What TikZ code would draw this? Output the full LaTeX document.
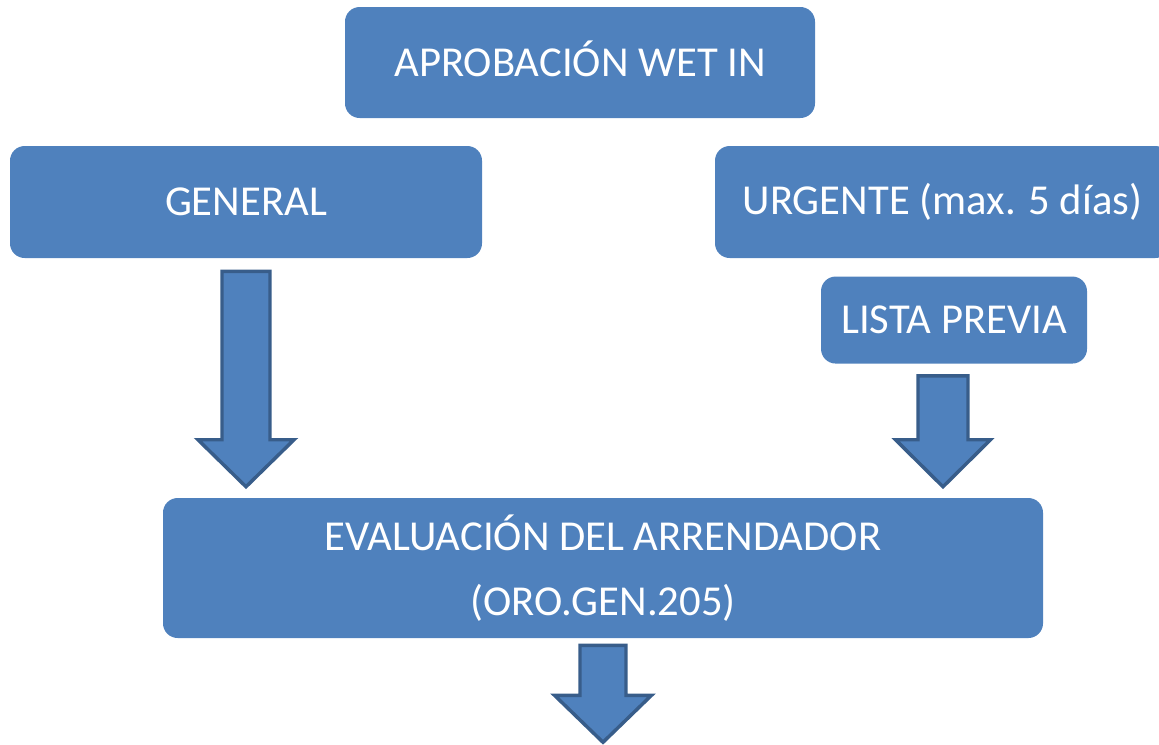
\documentclass[tikz,border=0pt]{standalone}
\usepackage{fontspec}
\setmainfont{Carlito}
\usepackage{tikz}
\usetikzlibrary{positioning, calc}
\definecolor{boxblue}{RGB}{79, 129, 189}
\definecolor{arrowedge}{RGB}{56, 93, 138}

% block arrow from #1 (top) down to #2 (tip), shaft half width #3, head half width #4
\newcommand{\blockarrow}[4]{%
  \draw[bigarrow] ($(#1)+(-#3,0)$) -- ($(#2)+(-#3,-47)$) -- ($(#2)+(-#4,-47)$) -- (#2)
    -- ($(#2)+(#4,-47)$) -- ($(#2)+(#3,-47)$) -- ($(#1)+(#3,0)$) -- cycle;}

\begin{document}
\begin{tikzpicture}[
    x=0.75pt, y=-0.75pt,
    stage/.style={fill=boxblue, rounded corners=11pt, text=white, align=center,
                  font=\fontsize{32}{49}\selectfont, inner sep=0pt},
    bigarrow/.style={fill=boxblue, draw=arrowedge, line width=2.6pt, line join=miter}
]
    \useasboundingbox (0,0) rectangle (1159,744);

    % Boxes
    \node[stage, minimum width=352.5pt, minimum height=83.25pt] (wetin) at (580,62.5) {APROBACI\smash{Ó}N WET IN};
    \node[stage, minimum width=354pt, minimum height=84pt] (general) at (246,202) {GENERAL};
    \node[stage, minimum width=341.25pt, minimum height=84pt] (urgente) at (942.5,202) {URGENTE (max. 5 días)};
    \node[stage, minimum width=199.5pt, minimum height=65.25pt, below=13.5pt of urgente, xshift=8.625pt] (lista) {LISTA PREVIA};
    \node[stage, minimum width=660pt, minimum height=105pt] (evaluacion) at (603,568) {EVALUACIÓN DEL ARRENDADOR\\(ORO.GEN.205)};

    % Arrows
    \coordinate (a1top) at ($(general.south)+(0,13)$);
    \coordinate (a1tip) at ($(a1top |- evaluacion.north)+(0,-11)$);
    \coordinate (a2top) at ($(lista.south)+(-11,12)$);
    \coordinate (a2tip) at ($(a2top |- evaluacion.north)+(0,-11)$);
    \coordinate (a3top) at ($(evaluacion.south)+(0,7)$);
    \coordinate (a3tip) at ($(a3top)+(0,97)$);
    \blockarrow{a1top}{a1tip}{24}{48}
    \blockarrow{a2top}{a2tip}{25}{47.5}
    \blockarrow{a3top}{a3tip}{23}{48.5}
\end{tikzpicture}
\end{document}
